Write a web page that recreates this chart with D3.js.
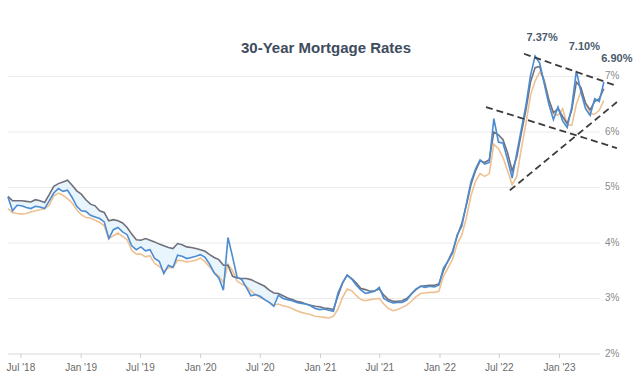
<!DOCTYPE html>
<html>
<head>
<meta charset="utf-8">
<script src="https://cdn.jsdelivr.net/npm/d3@7"></script>
<style>
  html, body { margin: 0; padding: 0; background: #fff; }
  svg { display: block; font-family: "Liberation Sans", Arial, sans-serif; }
</style>
</head>
<body>
<svg id="chart" width="640" height="387"></svg>
<script>
// biweekly readings, first point 2018-05-24
var startDate = "2018-05-24";
var stepDays = 14;

// daily survey (blue)
var blueRates = [
  4.83, 4.58, 4.68, 4.67, 4.64, 4.62, 4.66, 4.65, 4.62, 4.76,
  4.90, 4.98, 4.93, 4.95, 4.82, 4.66, 4.58, 4.57, 4.50, 4.47,
  4.44, 4.38, 4.08, 4.24, 4.28, 4.20, 4.15, 3.95, 3.88, 3.93,
  3.86, 3.88, 3.72, 3.67, 3.45, 3.60, 3.56, 3.78, 3.76, 3.72,
  3.74, 3.76, 3.79, 3.74, 3.62, 3.46, 3.37, 3.15, 4.10, 3.75, 3.38,
  3.34, 3.20, 3.05, 3.07, 3.04, 2.98, 2.93, 2.86, 3.06, 3.00,
  2.98, 2.96, 2.93, 2.91, 2.90, 2.87, 2.82, 2.80, 2.81, 2.79,
  2.77, 3.10, 3.28, 3.42, 3.35, 3.24, 3.15, 3.09, 3.11, 3.13,
  3.20, 3.00, 2.95, 2.92, 2.93, 2.93, 2.97, 3.08, 3.17, 3.22,
  3.20, 3.22, 3.21, 3.24, 3.55, 3.67, 3.82, 4.15, 4.30, 4.70,
  5.10, 5.33, 5.50, 5.42, 5.45, 6.24, 5.82, 5.80, 5.50, 5.17,
  5.62, 6.05, 6.48, 7.02, 7.37, 7.24, 6.87, 6.50, 6.22, 6.45,
  6.20, 6.08, 6.45, 7.10, 6.72, 6.42, 6.30, 6.60, 6.55, 6.90
];

// weekly application survey (grey)
var greyRates = [
  4.84, 4.76, 4.76, 4.76, 4.75, 4.74, 4.78, 4.76, 4.73, 4.87,
  5.02, 5.07, 5.10, 5.13, 5.04, 4.94, 4.88, 4.78, 4.70, 4.67,
  4.58, 4.55, 4.40, 4.42, 4.40, 4.36, 4.28, 4.16, 4.06, 4.05,
  4.08, 4.05, 4.02, 3.98, 3.95, 3.92, 3.90, 3.99, 3.97, 3.93,
  3.92, 3.90, 3.88, 3.85, 3.79, 3.74, 3.70, 3.60, 3.60, 3.40, 3.37,
  3.36, 3.36, 3.34, 3.30, 3.26, 3.22, 3.15, 3.10, 3.09, 3.05,
  3.01, 2.98, 2.95, 2.93, 2.90, 2.88, 2.86, 2.85, 2.83, 2.82,
  2.80, 3.05, 3.28, 3.42, 3.36, 3.28, 3.18, 3.16, 3.13, 3.14,
  3.17, 3.06, 2.98, 2.95, 2.95, 2.96, 3.00, 3.08, 3.16, 3.22,
  3.23, 3.24, 3.24, 3.26, 3.50, 3.68, 3.85, 4.12, 4.35, 4.68,
  5.05, 5.30, 5.48, 5.45, 5.50, 6.00, 5.95, 5.86, 5.62, 5.30,
  5.55, 5.98, 6.40, 6.90, 7.16, 7.18, 6.90, 6.58, 6.35, 6.42,
  6.28, 6.15, 6.40, 6.90, 6.80, 6.52, 6.40, 6.55, 6.60, 6.78
];

// weekly market survey (orange)
var orangeRates = [
  4.62, 4.55, 4.53, 4.52, 4.53, 4.56, 4.58, 4.60, 4.62, 4.68,
  4.85, 4.90, 4.86, 4.80, 4.72, 4.60, 4.51, 4.46, 4.45, 4.41,
  4.37, 4.31, 4.08, 4.13, 4.18, 4.12, 4.06, 3.87, 3.80, 3.80,
  3.75, 3.77, 3.63, 3.58, 3.49, 3.55, 3.56, 3.69, 3.68, 3.66,
  3.67, 3.69, 3.73, 3.66, 3.57, 3.47, 3.40, 3.29, 3.62, 3.50, 3.31,
  3.26, 3.22, 3.14, 3.07, 3.02, 2.98, 2.93, 2.88, 2.90, 2.87,
  2.85, 2.82, 2.78, 2.75, 2.73, 2.71, 2.68, 2.67, 2.66, 2.65,
  2.68, 2.81, 3.02, 3.17, 3.14, 3.05, 2.98, 2.96, 2.98, 2.99,
  3.00, 2.90, 2.82, 2.78, 2.80, 2.84, 2.88, 2.95, 3.03, 3.09,
  3.10, 3.11, 3.11, 3.13, 3.40, 3.55, 3.71, 3.98, 4.14, 4.45,
  4.85, 5.11, 5.25, 5.20, 5.25, 5.78, 5.70, 5.54, 5.30, 5.05,
  5.20, 5.70, 6.15, 6.66, 6.92, 7.08, 6.95, 6.58, 6.33, 6.30,
  6.42, 6.13, 6.12, 6.50, 6.73, 6.52, 6.33, 6.32, 6.39, 6.57
];

var yTicks = [2, 3, 4, 5, 6, 7];
var xTickDates = ["2018-07-01", "2019-01-01", "2019-07-01", "2020-01-01", "2020-07-01",
  "2021-01-01", "2021-07-01", "2022-01-01", "2022-07-01", "2023-01-01"];

// trend channel drawn on the chart
var trendLines = [
  { from: ["2022-09-16", 7.41], to: ["2023-06-27", 6.83] },
  { from: ["2022-05-23", 6.45], to: ["2023-06-27", 5.71] },
  { from: ["2022-08-04", 4.95], to: ["2023-06-27", 6.54] }
];

// labelled points on the blue series (indexes into blueRates)
var callouts = [115, 124, 130];

var parse = d3.timeParse("%Y-%m-%d");
var t0 = parse(startDate);

function toSeries(vals) {
  return vals.map(function(v, i) { return { date: d3.timeDay.offset(t0, i * stepDays), v: v }; });
}
var blue = toSeries(blueRates),
    grey = toSeries(greyRates),
    orange = toSeries(orangeRates);

var svg = d3.select("#chart");

var x = d3.scaleTime()
  .domain([parse("2018-07-01"), parse("2023-01-01")])
  .range([20.4, 559]);
var y = d3.scaleLinear().domain([2, 7]).range([354, 76.5]);

var gridLeft = 8, gridRight = 600;

// grid
svg.append("g").selectAll("line")
  .data(yTicks)
  .enter().append("line")
  .attr("x1", gridLeft).attr("x2", gridRight)
  .attr("y1", function(d) { return y(d); })
  .attr("y2", function(d) { return y(d); })
  .attr("stroke", function(d) { return d === 2 ? "#d8d8d8" : "#ebebeb"; })
  .attr("stroke-width", 1);

// right labels
svg.append("g").selectAll("text")
  .data(yTicks)
  .enter().append("text")
  .attr("x", 605)
  .attr("y", function(d) { return y(d) - 1; })
  .attr("dy", "0.35em")
  .attr("font-size", 10)
  .attr("fill", "#8a8a8a")
  .text(function(d) { return d + "%"; });

// x axis
var xAxis = d3.axisBottom(x)
  .tickValues(xTickDates.map(parse))
  .tickSize(4)
  .tickFormat(function(d) { return d3.timeFormat("%b '%y")(d); });

var gx = svg.append("g")
  .attr("transform", "translate(0," + y(2) + ")")
  .call(xAxis);
gx.select(".domain").remove();
gx.selectAll(".tick line").attr("stroke", "#cfcfcf");
gx.selectAll(".tick text")
  .attr("fill", "#6a6a6a")
  .attr("font-size", 10)
  .attr("font-family", "Liberation Sans, Arial, sans-serif")
  .attr("dy", "0.95em");

// light band between the blue and grey lines
var band = d3.area()
  .x(function(d, i) { return x(blue[i].date); })
  .y0(function(d, i) { return y(blue[i].v); })
  .y1(function(d, i) { return y(Math.max(blue[i].v, grey[i].v)); });
svg.append("path")
  .datum(blue)
  .attr("d", band)
  .attr("fill", "#d9eefb")
  .attr("opacity", 0.6);

var line = d3.line()
  .x(function(d) { return x(d.date); })
  .y(function(d) { return y(d.v); });

svg.append("path").datum(orange).attr("d", line)
  .attr("fill", "none").attr("stroke", "#eec193").attr("stroke-width", 1.6);
svg.append("path").datum(grey).attr("d", line)
  .attr("fill", "none").attr("stroke", "#70707c").attr("stroke-width", 1.6);
svg.append("path").datum(blue).attr("d", line)
  .attr("fill", "none").attr("stroke", "#4d8cd0").attr("stroke-width", 1.6);

// trend channel
svg.append("g").selectAll("line")
  .data(trendLines)
  .enter().append("line")
  .attr("x1", function(d) { return x(parse(d.from[0])); })
  .attr("y1", function(d) { return y(d.from[1]); })
  .attr("x2", function(d) { return x(parse(d.to[0])); })
  .attr("y2", function(d) { return y(d.to[1]); })
  .attr("stroke", "#3c3c3c")
  .attr("stroke-width", 1.8)
  .attr("stroke-dasharray", "7,4");

// callouts
var calloutOffsets = [[7, -19], [8, -25], [13, -24]];
svg.append("g").selectAll("text")
  .data(callouts)
  .enter().append("text")
  .attr("x", function(d, i) { return x(blue[d].date) + calloutOffsets[i][0]; })
  .attr("y", function(d, i) { return y(blue[d].v) + calloutOffsets[i][1]; })
  .attr("dy", "0.35em")
  .attr("text-anchor", "middle")
  .attr("font-size", 11)
  .attr("font-weight", "bold")
  .attr("fill", "#4b5a6c")
  .text(function(d) { return blue[d].v.toFixed(2) + "%"; });

// title
svg.append("text")
  .attr("x", 326).attr("y", 48)
  .attr("dy", "0.35em")
  .attr("text-anchor", "middle")
  .attr("font-size", 15)
  .attr("font-weight", "bold")
  .attr("fill", "#3e4c5e")
  .text("30-Year Mortgage Rates");
</script>
</body>
</html>
